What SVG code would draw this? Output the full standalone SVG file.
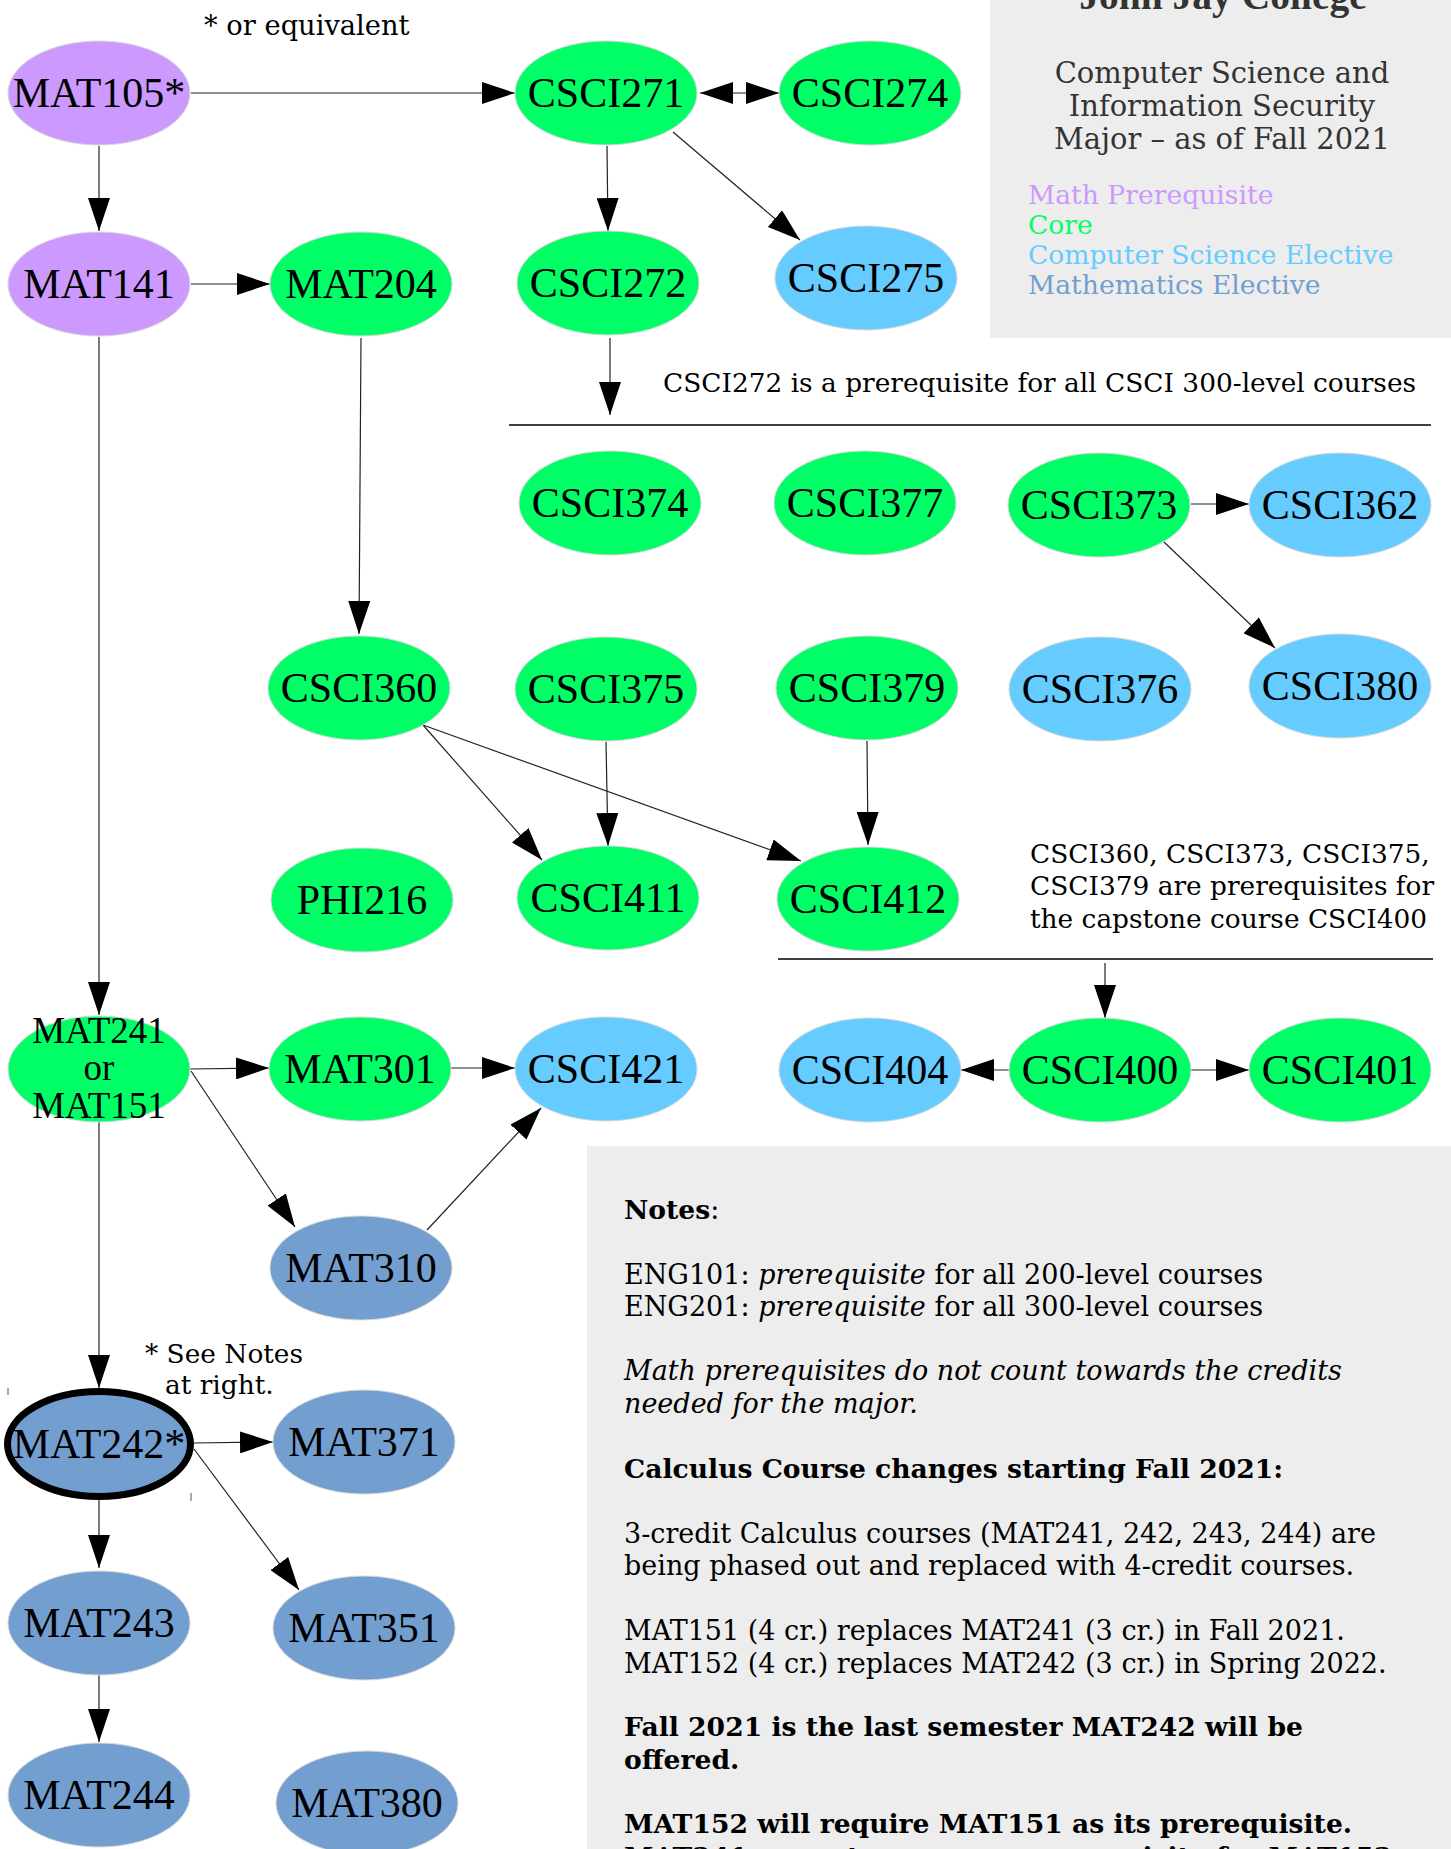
<svg xmlns="http://www.w3.org/2000/svg" width="1451" height="1849" viewBox="0 0 1451 1849">
<style>
.n text{font-family:"Liberation Serif","Times New Roman",serif;font-size:42px;fill:#000;text-anchor:middle}
.n ellipse{stroke:#d8d8d8;stroke-width:1}
.mp{fill:#cc99ff}.core{fill:#00ff66}.cse{fill:#66ccff}.me{fill:#729fcf}
.e line{stroke:#222;stroke-width:1.2;marker-end:url(#ah)}
.ann{font-family:"DejaVu Serif","Liberation Serif",serif;font-size:26.4px;fill:#000}
.hdr{font-family:"DejaVu Serif","Liberation Serif",serif;font-size:29px;fill:#333;text-anchor:middle}
.leg{font-family:"DejaVu Serif","Liberation Serif",serif;font-size:26.6px}
.nt{font-family:"DejaVu Serif","Liberation Serif",serif;font-size:27px;fill:#000}
.b{font-weight:bold;font-size:26.6px}.i{font-style:italic}
</style>
<defs>
<marker id="ah" viewBox="0 0 33 22" refX="33" refY="11" markerWidth="33" markerHeight="22" markerUnits="userSpaceOnUse" orient="auto-start-reverse"><path d="M0,0 L33,11 L0,22 z" fill="#000"/></marker>
</defs>
<rect width="1451" height="1849" fill="#fff"/>
<g id="header">
<rect x="990" y="0" width="461" height="338" fill="#ededed"/>
<text x="1223" y="9" font-family="Liberation Serif,serif" font-weight="bold" font-size="39.5" fill="#333" text-anchor="middle">John Jay College</text>
<text class="hdr" x="1222" y="83">Computer Science and</text>
<text class="hdr" x="1222" y="116">Information Security</text>
<text class="hdr" x="1222" y="149">Major – as of Fall 2021</text>
<text class="leg" x="1028" y="204" fill="#cc99ff">Math Prerequisite</text>
<text class="leg" x="1028" y="234" fill="#00ff66">Core</text>
<text class="leg" x="1028" y="264" fill="#66ccff">Computer Science Elective</text>
<text class="leg" x="1028" y="294" fill="#729fcf">Mathematics Elective</text>
</g>
<g id="notes">
<rect x="587" y="1146" width="864" height="703" fill="#ededed"/>
<text class="nt" x="624" y="1219"><tspan class="b">Notes</tspan>:</text>
<text class="nt" x="624" y="1284">ENG101: <tspan class="i">prerequisite</tspan> for all 200-level courses</text>
<text class="nt" x="624" y="1316">ENG201: <tspan class="i">prerequisite</tspan> for all 300-level courses</text>
<text class="nt i" x="624" y="1380">Math prerequisites do not count towards the credits</text>
<text class="nt i" x="624" y="1413">needed for the major.</text>
<text class="nt b" x="624" y="1478">Calculus Course changes starting Fall 2021:</text>
<text class="nt" x="624" y="1543">3-credit Calculus courses (MAT241, 242, 243, 244) are</text>
<text class="nt" x="624" y="1575">being phased out and replaced with 4-credit courses.</text>
<text class="nt" x="624" y="1640">MAT151 (4 cr.) replaces MAT241 (3 cr.) in Fall 2021.</text>
<text class="nt" x="624" y="1673">MAT152 (4 cr.) replaces MAT242 (3 cr.) in Spring 2022.</text>
<text class="nt b" x="624" y="1736">Fall 2021 is the last semester MAT242 will be</text>
<text class="nt b" x="624" y="1769">offered.</text>
<text class="nt b" x="624" y="1833">MAT152 will require MAT151 as its prerequisite.</text>
<text class="nt b" x="624" y="1866">MAT241 cannot serve as a prerequisite for MAT152.</text>
</g>
<g id="annotations">
<text class="ann" x="204" y="35" style="font-size:27.3px">* or equivalent</text>
<text class="ann" x="663" y="392">CSCI272 is a prerequisite for all CSCI 300-level courses</text>
<line x1="509" y1="425" x2="1431" y2="425" stroke="#000" stroke-width="1.5"/>
<text class="ann" x="1030" y="863">CSCI360, CSCI373, CSCI375,</text>
<text class="ann" x="1030" y="895">CSCI379 are prerequisites for</text>
<text class="ann" x="1030" y="928">the capstone course CSCI400</text>
<line x1="778" y1="959" x2="1433" y2="959" stroke="#000" stroke-width="1.5"/>
<text class="ann" x="145" y="1363">* See Notes</text>
<text class="ann" x="165" y="1394">at right.</text>
<line x1="8" y1="1388" x2="8" y2="1395" stroke="#555" stroke-width="1"/>
<line x1="191" y1="1493" x2="191" y2="1501" stroke="#555" stroke-width="1"/>
</g>
<g id="connectors" class="e">
<line x1="191" y1="93" x2="515" y2="93"/>
<line x1="700" y1="93" x2="779" y2="93" marker-start="url(#ah)"/>
<line x1="99" y1="146" x2="99" y2="231"/>
<line x1="191" y1="284" x2="270" y2="284"/>
<line x1="607" y1="146" x2="608" y2="231"/>
<line x1="673" y1="132" x2="800" y2="240"/>
<line x1="610" y1="338" x2="610" y2="415"/>
<line x1="99" y1="337" x2="99" y2="1015"/>
<line x1="361" y1="338" x2="359" y2="634"/>
<line x1="1191" y1="504" x2="1249" y2="504"/>
<line x1="1164" y1="542" x2="1275" y2="648"/>
<line x1="423" y1="725" x2="542" y2="860"/>
<line x1="423" y1="725" x2="801" y2="861"/>
<line x1="606" y1="742" x2="608" y2="846"/>
<line x1="867" y1="741" x2="868" y2="845"/>
<line x1="1105" y1="963" x2="1105" y2="1018"/>
<line x1="1010" y1="1070" x2="961" y2="1070"/>
<line x1="1191" y1="1070" x2="1249" y2="1070"/>
<line x1="190" y1="1069" x2="269" y2="1068"/>
<line x1="451" y1="1068" x2="515" y2="1068"/>
<line x1="191" y1="1071" x2="295" y2="1227"/>
<line x1="427" y1="1230" x2="541" y2="1108"/>
<line x1="99" y1="1122" x2="99" y2="1388"/>
<line x1="194" y1="1443" x2="273" y2="1442"/>
<line x1="194" y1="1449" x2="299" y2="1590"/>
<line x1="99" y1="1500" x2="99" y2="1568"/>
<line x1="99" y1="1675" x2="99" y2="1742"/>
</g>
<g id="MAT105" class="n"><ellipse class="mp" cx="99" cy="93" rx="91" ry="52"/><text x="99" y="107">MAT105*</text></g>
<g id="CSCI271" class="n"><ellipse class="core" cx="606" cy="93" rx="91" ry="52"/><text x="606" y="107">CSCI271</text></g>
<g id="CSCI274" class="n"><ellipse class="core" cx="870" cy="93" rx="91" ry="52"/><text x="870" y="107">CSCI274</text></g>
<g id="MAT141" class="n"><ellipse class="mp" cx="99" cy="284" rx="91" ry="52"/><text x="99" y="298">MAT141</text></g>
<g id="MAT204" class="n"><ellipse class="core" cx="361" cy="284" rx="91" ry="52"/><text x="361" y="298">MAT204</text></g>
<g id="CSCI272" class="n"><ellipse class="core" cx="608" cy="283" rx="91" ry="52"/><text x="608" y="297">CSCI272</text></g>
<g id="CSCI275" class="n"><ellipse class="cse" cx="866" cy="278" rx="91" ry="52"/><text x="866" y="292">CSCI275</text></g>
<g id="CSCI374" class="n"><ellipse class="core" cx="610" cy="503" rx="91" ry="52"/><text x="610" y="517">CSCI374</text></g>
<g id="CSCI377" class="n"><ellipse class="core" cx="865" cy="503" rx="91" ry="52"/><text x="865" y="517">CSCI377</text></g>
<g id="CSCI373" class="n"><ellipse class="core" cx="1099" cy="505" rx="91" ry="52"/><text x="1099" y="519">CSCI373</text></g>
<g id="CSCI362" class="n"><ellipse class="cse" cx="1340" cy="505" rx="91" ry="52"/><text x="1340" y="519">CSCI362</text></g>
<g id="CSCI360" class="n"><ellipse class="core" cx="359" cy="688" rx="91" ry="52"/><text x="359" y="702">CSCI360</text></g>
<g id="CSCI375" class="n"><ellipse class="core" cx="606" cy="689" rx="91" ry="52"/><text x="606" y="703">CSCI375</text></g>
<g id="CSCI379" class="n"><ellipse class="core" cx="867" cy="688" rx="91" ry="52"/><text x="867" y="702">CSCI379</text></g>
<g id="CSCI376" class="n"><ellipse class="cse" cx="1100" cy="689" rx="91" ry="52"/><text x="1100" y="703">CSCI376</text></g>
<g id="CSCI380" class="n"><ellipse class="cse" cx="1340" cy="686" rx="91" ry="52"/><text x="1340" y="700">CSCI380</text></g>
<g id="PHI216" class="n"><ellipse class="core" cx="362" cy="900" rx="91" ry="52"/><text x="362" y="914">PHI216</text></g>
<g id="CSCI411" class="n"><ellipse class="core" cx="608" cy="898" rx="91" ry="52"/><text x="608" y="912">CSCI411</text></g>
<g id="CSCI412" class="n"><ellipse class="core" cx="868" cy="899" rx="91" ry="52"/><text x="868" y="913">CSCI412</text></g>
<g id="MAT241" class="n"><ellipse class="core" cx="99" cy="1069" rx="91" ry="53"/><text x="99" y="1043" style="font-size:37px">MAT241</text><text x="99" y="1080" style="font-size:37px">or</text><text x="99" y="1118" style="font-size:37px">MAT151</text></g>
<g id="MAT301" class="n"><ellipse class="core" cx="360" cy="1069" rx="91" ry="52"/><text x="360" y="1083">MAT301</text></g>
<g id="CSCI421" class="n"><ellipse class="cse" cx="606" cy="1069" rx="91" ry="52"/><text x="606" y="1083">CSCI421</text></g>
<g id="CSCI404" class="n"><ellipse class="cse" cx="870" cy="1070" rx="91" ry="52"/><text x="870" y="1084">CSCI404</text></g>
<g id="CSCI400" class="n"><ellipse class="core" cx="1100" cy="1070" rx="91" ry="52"/><text x="1100" y="1084">CSCI400</text></g>
<g id="CSCI401" class="n"><ellipse class="core" cx="1340" cy="1070" rx="91" ry="52"/><text x="1340" y="1084">CSCI401</text></g>
<g id="MAT310" class="n"><ellipse class="me" cx="361" cy="1268" rx="91" ry="52"/><text x="361" y="1282">MAT310</text></g>
<g id="MAT242" class="n"><ellipse class="me" cx="99" cy="1444" rx="91.5" ry="52.5" style="stroke:#000;stroke-width:7"/><text x="99" y="1458">MAT242*</text></g>
<g id="MAT371" class="n"><ellipse class="me" cx="364" cy="1442" rx="91" ry="52"/><text x="364" y="1456">MAT371</text></g>
<g id="MAT243" class="n"><ellipse class="me" cx="99" cy="1623" rx="91" ry="52"/><text x="99" y="1637">MAT243</text></g>
<g id="MAT351" class="n"><ellipse class="me" cx="364" cy="1628" rx="91" ry="52"/><text x="364" y="1642">MAT351</text></g>
<g id="MAT244" class="n"><ellipse class="me" cx="99" cy="1795" rx="91" ry="52"/><text x="99" y="1809">MAT244</text></g>
<g id="MAT380" class="n"><ellipse class="me" cx="367" cy="1803" rx="91" ry="52"/><text x="367" y="1817">MAT380</text></g>
</svg>
